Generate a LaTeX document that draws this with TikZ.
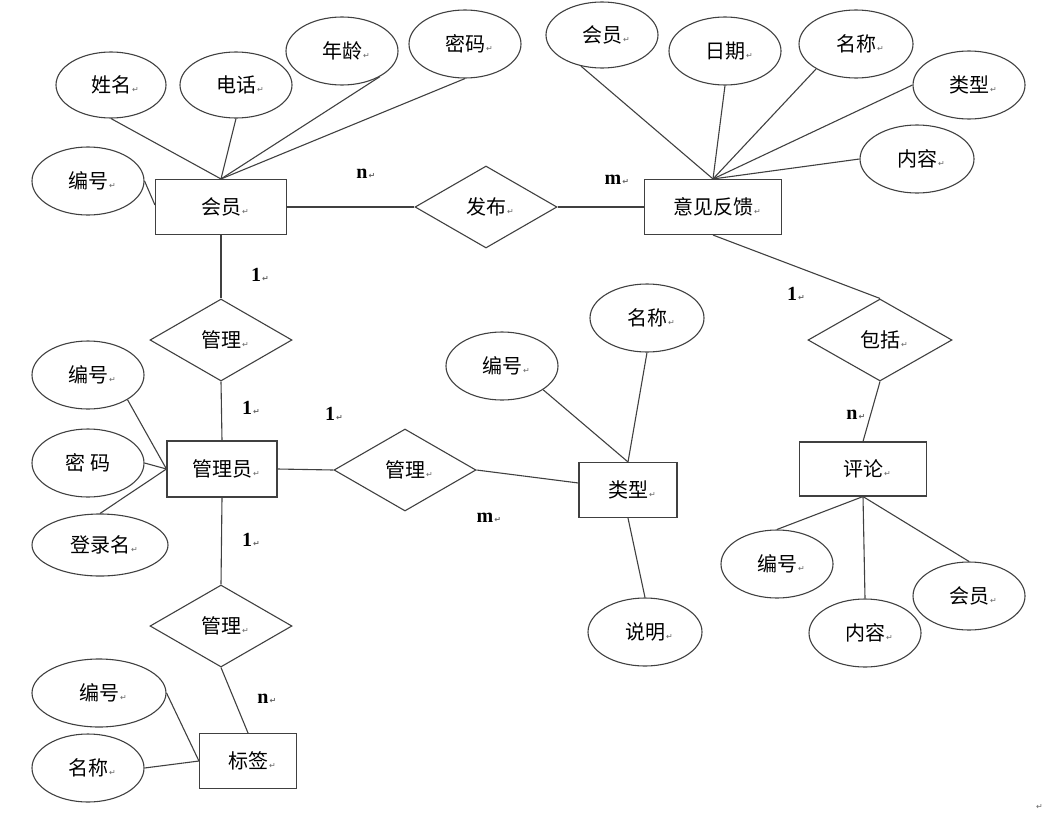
\documentclass[tikz,border=0pt]{standalone}
\usepackage{fontspec}
\setmainfont{Liberation Serif}
\newfontfamily\cjk{Noto Sans CJK SC}
\newfontfamily\dejavu{DejaVu Sans}
\usetikzlibrary{shapes.geometric}
\newcommand\retmark{\rlap{\kern1pt{\fontsize{8}{8}\dejavu\color{black!60}↵}}}
\begin{document}
\begin{tikzpicture}[x=1pt,y=-1pt,
  every path/.style={draw=black!75, line width=1.1pt},
  ent/.style={draw=black!75, line width=1.1pt, rectangle, inner sep=0pt, font=\fontsize{20}{20}\cjk},
  attr/.style={draw=black!75, line width=1.1pt, ellipse, inner sep=0pt, font=\fontsize{20}{20}\cjk},
  rel/.style={draw=black!75, line width=1.1pt, diamond, inner sep=0pt, minimum width=142pt, minimum height=82pt, font=\fontsize{20}{20}\cjk},
  card/.style={inner sep=0pt, font=\fontsize{20}{20}\selectfont\bfseries}]
\path[use as bounding box, draw=none] (0,0) rectangle (1054,822);

% member
\node[ent, minimum width=131pt, minimum height=55pt] (hy) at (221,207) {会员\retmark};
\node[attr, minimum width=110pt, minimum height=66pt] (hyxm) at (111,85) {姓名\retmark};
\node[attr, minimum width=112pt, minimum height=66pt] (hydh) at (236,85) {电话\retmark};
\node[attr, minimum width=112pt, minimum height=68pt] (hynl) at (342,51) {年龄\retmark};
\node[attr, minimum width=112pt, minimum height=68pt] (hymm) at (465,44) {密码\retmark};
\node[attr, minimum width=112pt, minimum height=68pt] (hybh) at (88,181) {编号\retmark};

% feedback
\node[ent, minimum width=137pt, minimum height=55pt] (yj) at (713,207) {意见反馈\retmark};
\node[attr, minimum width=112pt, minimum height=66pt] (yjhy) at (602,35) {会员\retmark};
\node[attr, minimum width=112pt, minimum height=68pt] (yjrq) at (725,51) {日期\retmark};
\node[attr, minimum width=114pt, minimum height=68pt] (yjmc) at (856,44) {名称\retmark};
\node[attr, minimum width=112pt, minimum height=68pt] (yjlx) at (969,85) {类型\retmark};
\node[attr, minimum width=114pt, minimum height=68pt] (yjnr) at (917,159) {内容\retmark};

\node[rel] (fb) at (486,207) {发布\retmark};
\node[rel] (gl1) at (221,340) {管理\retmark};

% admin
\node[ent, minimum width=110pt, minimum height=56pt] (gly) at (222,469) {管理员\retmark};
\node[attr, minimum width=112pt, minimum height=68pt] (glybh) at (88,375) {编号\retmark};
\node[attr, minimum width=112pt, minimum height=68pt] (glymm) at (88,463) {密\ 码};
\node[attr, minimum width=136pt, minimum height=62pt] (glydl) at (100,545) {登录名\retmark};

\node[rel] (gl2) at (405,470) {管理\retmark};

% type
\node[ent, minimum width=98pt, minimum height=55pt] (lx) at (628,490) {类型\retmark};
\node[attr, minimum width=112pt, minimum height=68pt] (lxbh) at (502,366) {编号\retmark};
\node[attr, minimum width=114pt, minimum height=68pt] (lxmc) at (647,318) {名称\retmark};
\node[attr, minimum width=114pt, minimum height=68pt] (lxsm) at (645,632) {说明\retmark};

% comment
\node[rel, minimum width=144pt] (bk) at (880,340) {包括\retmark};
\node[ent, minimum width=127pt, minimum height=54pt] (pl) at (863,469) {评论\retmark};
\node[attr, minimum width=112pt, minimum height=68pt] (plbh) at (777,564) {编号\retmark};
\node[attr, minimum width=112pt, minimum height=68pt] (plnr) at (865,633) {内容\retmark};
\node[attr, minimum width=112pt, minimum height=68pt] (plhy) at (969,596) {会员\retmark};

% tag
\node[rel] (gl3) at (221,626) {管理\retmark};
\node[ent, minimum width=97pt, minimum height=55pt] (bq) at (248,761) {标签\retmark};
\node[attr, minimum width=134pt, minimum height=68pt] (bqbh) at (99,693) {编号\retmark};
\node[attr, minimum width=112pt, minimum height=68pt] (bqmc) at (88,768) {名称\retmark};

% connectors
\draw (hyxm.south) -- (hy.north);
\draw (hydh.south) -- (hy.north);
\draw (hynl.-34) -- (hy.north);
\draw (hymm.south) -- (hy.north);
\draw (hybh.east) -- ([yshift=2pt]hy.west);
\draw (hy.east) -- (fb.west);
\draw (fb.east) -- (yj.west);
\draw (yjhy.-124) -- (yj.north);
\draw (yjrq.south) -- (yj.north);
\draw (yjmc.-148) -- (yj.north);
\draw (yjlx.west) -- (yj.north);
\draw (yjnr.west) -- (yj.north);
\draw (yj.south) -- (bk.north);
\draw (bk.south) -- (pl.north);
\draw (plbh.north) -- (pl.south);
\draw (plnr.north) -- (pl.south);
\draw (plhy.north) -- (pl.south);
\draw (hy.south) -- (gl1.north);
\draw (gl1.south) -- (gly.north);
\draw (glybh.-32) -- (gly.west);
\draw (glymm.east) -- (gly.west);
\draw (glydl.north) -- (gly.west);
\draw (gly.east) -- (gl2.west);
\draw (gl2.east) -- ([yshift=7pt]lx.west);
\draw (lxbh.-30) -- (lx.north);
\draw (lxmc.south) -- (lx.north);
\draw (lx.south) -- (lxsm.north);
\draw (gly.south) -- (gl3.north);
\draw (gl3.south) -- (bq.north);
\draw (bqbh.east) -- (bq.west);
\draw (bqmc.east) -- (bq.west);

% cardinalities
\node[card] (c1) at (362,174) {n\retmark};
\node[card] (c2) at (613,180) {m\retmark};
\node[card] (c3) at (256,275) {1\retmark};
\node[card] (c4) at (792,294) {1\retmark};
\node[card] (c5) at (247,408) {1\retmark};
\node[card] (c6) at (330,414) {1\retmark};
\node[card] (c7) at (485,518) {m\retmark};
\node[card] (c8) at (247,540) {1\retmark};
\node[card] (c9) at (852,415) {n\retmark};
\node[card] (c10) at (263,699) {n\retmark};
\node[inner sep=0pt] (endmark) at (1035,807) {\retmark};
\end{tikzpicture}
\end{document}
